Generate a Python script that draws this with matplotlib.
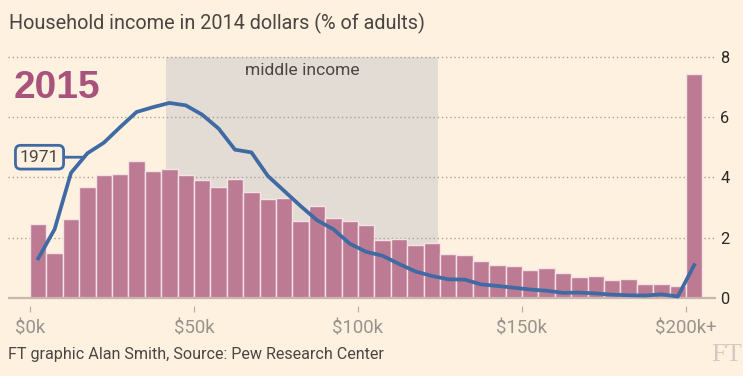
import numpy as np
import matplotlib
matplotlib.use('Agg')
import matplotlib.pyplot as plt
from matplotlib import font_manager

# household income distribution, share of adults (%) per $5k bracket
bracket_k = np.arange(0, 205, 5)
share_2015 = [2.47, 1.48, 2.61, 3.69, 4.07, 4.10, 4.56, 4.20, 4.28, 4.07,
              3.90, 3.69, 3.96, 3.51, 3.27, 3.33, 2.55, 3.05, 2.66, 2.54,
              2.42, 1.92, 1.94, 1.75, 1.81, 1.45, 1.44, 1.21, 1.09, 1.05,
              0.94, 0.98, 0.82, 0.71, 0.72, 0.59, 0.64, 0.45, 0.47, 0.41,
              7.44]
share_1971 = [1.31, 2.28, 4.15, 4.80, 5.15, 5.67, 6.17, 6.33, 6.47, 6.39,
              6.08, 5.62, 4.92, 4.83, 4.05, 3.55, 3.05, 2.58, 2.28, 1.80,
              1.53, 1.40, 1.13, 0.88, 0.73, 0.62, 0.61, 0.45, 0.40, 0.34,
              0.28, 0.24, 0.17, 0.18, 0.15, 0.11, 0.09, 0.08, 0.12, 0.05,
              1.09]
middle_income = (41.5, 124.4)
xticks = [0, 50, 100, 150, 200]
xlabels = ['$0k', '$50k', '$100k', '$150k', '$200k+']
yticks = [0, 2, 4, 6, 8]

names = {f.name for f in font_manager.fontManager.ttflist}
if 'Liberation Sans Narrow' in names:
    FONT, K = 'Liberation Sans Narrow', 1.0
else:
    FONT, K = 'Roboto', 0.84
plt.rcParams['font.family'] = [FONT, 'DejaVu Sans']

BG = '#fff1e0'
BAR = '#bd7b93'
BLUE = '#3f6aa3'
TXT = '#4a4542'
W, H = 743, 376

fig = plt.figure(figsize=(W / 100, H / 100), dpi=100, facecolor=BG)
ax = fig.add_axes([8 / W, 1 - 305.5 / H, 708 / W, 254.7 / H])
ax.set_facecolor(BG)

ax.axvspan(middle_income[0], middle_income[1], ymin=0.25 / 8.45, ymax=8.25 / 8.45,
           color='#e3dcd5', zorder=0, lw=0)
for t in yticks[1:]:
    ax.axhline(t, color='#aaa199', lw=1, ls=(0, (1, 2)), zorder=1)
ax.bar(bracket_k, share_2015, width=5, align='edge', color=BAR,
       edgecolor='#f4e2e5', linewidth=1.0, zorder=2)
ax.axhline(0, color='#c7b5ae', lw=1.6, zorder=3)
xc = bracket_k + 2.5
ax.plot(xc, share_1971, color=BLUE, lw=2.7, zorder=4, solid_joinstyle='round')

ax.set_xlim(-6.71, 209.15)
ax.set_ylim(-0.25, 8.2)
for s in ax.spines.values():
    s.set_visible(False)
ax.set_xticks(xticks)
ax.set_xticklabels(xlabels)
ax.tick_params(axis='x', length=4, width=0.8, color='#b3aba3', labelcolor='#9a938d',
               labelsize=16 * K, pad=6)
ax.yaxis.tick_right()
ax.set_yticks(yticks)
ax.tick_params(axis='y', length=0, labelcolor='#2b2826', labelsize=14 * K, pad=3)

ax.text(np.mean(middle_income), 7.56, 'middle income', ha='center', va='center',
        fontsize=15 * K, color=TXT)

yx = 16.5
ax.annotate('1971', xy=(yx, np.interp(yx, xc, share_1971)),
            xytext=(2.9, np.interp(yx, xc, share_1971)), ha='center', va='center',
            fontsize=15 * K, color=TXT, zorder=5,
            bbox=dict(boxstyle='round,pad=0.25,rounding_size=0.3', fc=BG, ec=BLUE, lw=2),
            arrowprops=dict(arrowstyle='-', color=BLUE, lw=2, shrinkA=0, shrinkB=0))

fig.text(9 / W, 1 - 23 / H, 'Household income in 2014 dollars (% of adults)',
         ha='left', va='center', fontsize=17 * K, color=TXT)
fig.text(14 / W, 1 - 88 / H, '2015', ha='left', va='center', fontsize=28,
         fontweight='bold', color='#a8527c', family='Liberation Sans')
fig.text(8 / W, 1 - 355 / H, 'FT graphic Alan Smith, Source: Pew Research Center',
         ha='left', va='center', fontsize=13.8 * K, color=TXT)
fig.text(711 / W, 1 - 355 / H, 'FT', ha='left', va='center', fontsize=19,
         color='#d3cac1', family='Liberation Serif')

fig.savefig('out.png', dpi=100, facecolor=BG)
